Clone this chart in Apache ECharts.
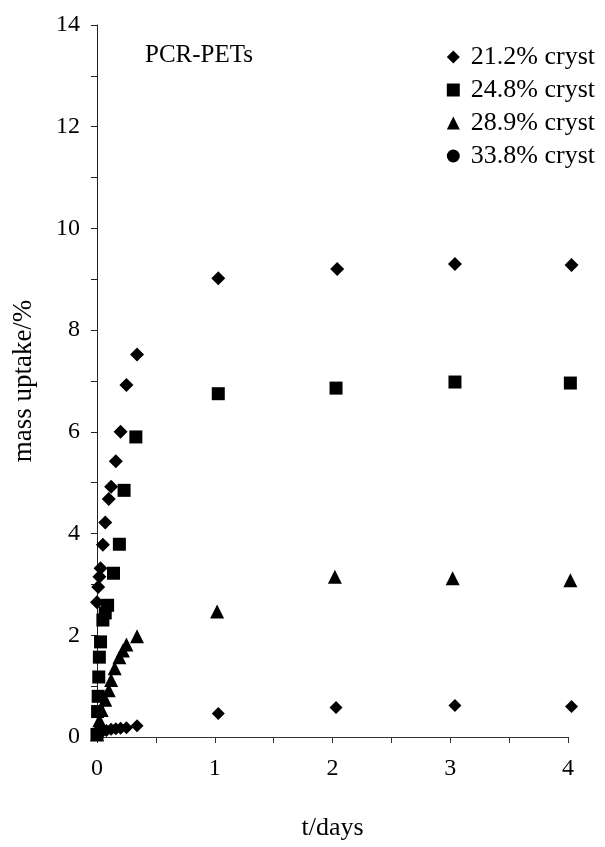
<!DOCTYPE html>
<html>
<head>
<meta charset="utf-8">
<script src="https://cdn.jsdelivr.net/npm/echarts@6/dist/echarts.min.js"></script>
<style>
  html, body { margin: 0; padding: 0; background: #fff; }
  #chart { width: 605px; height: 847px; }
</style>
</head>
<body>
<div id="chart"></div>
<script>
// series names (legend)
const names = ['21.2% cryst', '24.8% cryst', '28.9% cryst', '33.8% cryst'];

// t/days and mass uptake/% for each crystallinity
const t212 = [0, 0.01, 0.02, 0.03, 0.05, 0.07, 0.1, 0.12, 0.16, 0.2, 0.25, 0.34, 1.03, 2.04, 3.04, 4.03];
const m212 = [2.65, 2.95, 3.15, 3.32, 3.78, 4.22, 4.68, 4.92, 5.42, 6.0, 6.92, 7.52, 9.02, 9.2, 9.3, 9.28];

const t248 = [0, 0.005, 0.01, 0.015, 0.02, 0.03, 0.05, 0.07, 0.09, 0.14, 0.19, 0.23, 0.33, 1.03, 2.03, 3.04, 4.02];
const m248 = [0.05, 0.5, 0.8, 1.18, 1.57, 1.87, 2.3, 2.44, 2.59, 3.22, 3.79, 4.85, 5.9, 6.75, 6.86, 6.98, 6.96];

const t289 = [0, 0.01, 0.02, 0.04, 0.07, 0.1, 0.12, 0.15, 0.19, 0.22, 0.25, 0.34, 1.02, 2.02, 3.02, 4.02];
const m289 = [0.05, 0.2, 0.33, 0.53, 0.73, 0.92, 1.12, 1.35, 1.57, 1.7, 1.82, 1.98, 2.47, 3.15, 3.12, 3.08];

const t338 = [0, 0.01, 0.03, 0.05, 0.08, 0.12, 0.16, 0.2, 0.25, 0.34, 1.03, 2.03, 3.04, 4.03];
const m338 = [0.05, 0.08, 0.1, 0.12, 0.13, 0.15, 0.16, 0.17, 0.18, 0.22, 0.46, 0.58, 0.62, 0.6];

const serif = 'Liberation Serif';
const ink = '#000';

function pairs(t, m) {
  return t.map((x, i) => [x, m[i]]);
}

const chart = echarts.init(document.getElementById('chart'));

const dot = { color: ink, opacity: 1 };

const option = {
  backgroundColor: '#fff',
  animation: false,
  title: {
    text: 'PCR-PETs',
    left: 140,
    top: 38,
    textStyle: { fontFamily: serif, fontSize: 25, fontWeight: 'normal', color: ink }
  },
  legend: {
    orient: 'vertical',
    right: 5,
    top: 39,
    itemWidth: 13,
    itemHeight: 13,
    itemGap: 7,
    textStyle: { fontFamily: serif, fontSize: 26, color: ink, padding: [0, 0, 0, 6] },
    data: [
      { name: names[0], icon: 'diamond' },
      { name: names[1], icon: 'rect' },
      { name: names[2], icon: 'triangle' },
      { name: names[3], icon: 'circle' }
    ]
  },
  grid: { left: 97, right: 37, top: 25, bottom: 110, outerBoundsMode: 'none' },
  xAxis: {
    type: 'value',
    min: 0,
    max: 4,
    interval: 0.5,
    name: 't/days',
    nameLocation: 'middle',
    nameGap: 78,
    nameTextStyle: { fontFamily: serif, fontSize: 26, color: ink },
    splitLine: { show: false },
    axisLine: { lineStyle: { color: '#333', width: 1 } },
    axisTick: { length: 6, lineStyle: { color: '#333' } },
    axisLabel: {
      margin: 20,
      fontFamily: serif,
      fontSize: 24,
      color: ink,
      formatter: v => (Number.isInteger(v) ? String(v) : '')
    }
  },
  yAxis: {
    type: 'value',
    min: 0,
    max: 14,
    interval: 1,
    name: 'mass uptake/%',
    nameLocation: 'middle',
    nameGap: 60,
    nameTextStyle: { fontFamily: serif, fontSize: 27, color: ink },
    splitLine: { show: false },
    axisLine: { show: true, lineStyle: { color: '#222', width: 1 } },
    axisTick: { show: true, length: 6, lineStyle: { color: '#222' } },
    axisLabel: {
      margin: 17,
      fontFamily: serif,
      fontSize: 24,
      color: ink,
      formatter: v => (v % 2 === 0 ? String(v) : '')
    }
  },
  series: [
    {
      name: names[0], type: 'scatter', symbol: 'diamond', symbolSize: 14, clip: false,
      itemStyle: dot, data: pairs(t212, m212)
    },
    {
      name: names[1], type: 'scatter', symbol: 'rect', symbolSize: 13, clip: false,
      itemStyle: dot, data: pairs(t248, m248)
    },
    {
      name: names[2], type: 'scatter', symbol: 'triangle', symbolSize: 14, clip: false,
      itemStyle: dot, data: pairs(t289, m289)
    },
    {
      name: names[3], type: 'scatter', symbol: 'diamond', symbolSize: 13, clip: false,
      itemStyle: dot, data: pairs(t338, m338)
    }
  ]
};

chart.setOption(option);
</script>
</body>
</html>
